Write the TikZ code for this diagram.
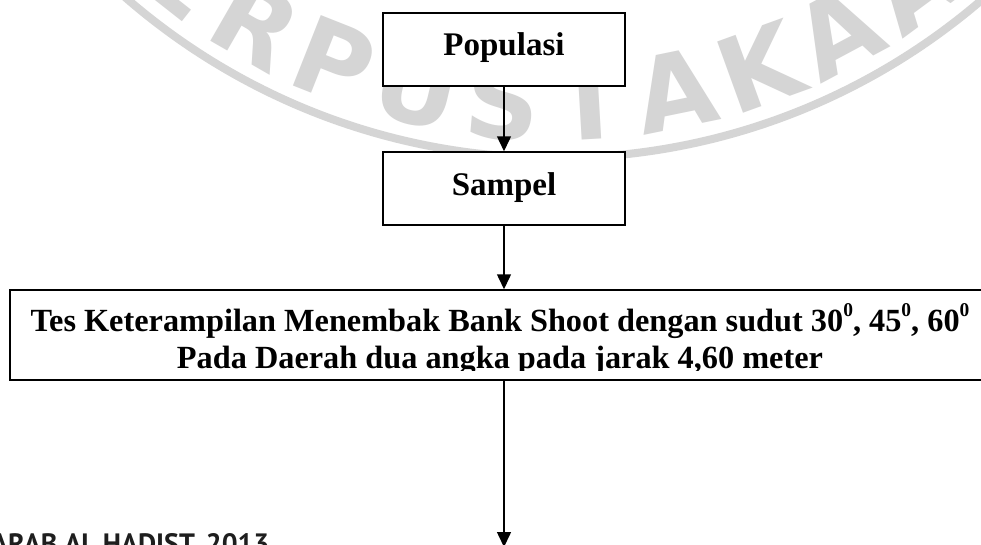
\documentclass[tikz,border=0pt]{standalone}
\usepackage{fontspec}
\setmainfont{Liberation Serif}
\newfontfamily\wmfont{DejaVu Sans}
\newfontfamily\capfont{PT Sans}
\usetikzlibrary{arrows.meta}
\definecolor{wm}{RGB}{213,213,213}
\definecolor{capgray}{RGB}{30,30,30}
\newcommand{\degsup}{\raisebox{15pt}{\fontsize{19.5}{19.5}\selectfont 0}}
\begin{document}
\begin{tikzpicture}[x=1pt,y=-1pt,
  box/.style={draw=black, line width=1.5pt, fill=white, inner sep=0pt, font=\fontsize{33}{38}\selectfont\bfseries},
  arr/.style={line width=1.5pt, -{Triangle[width=14pt,length=15pt]}},
  lbl/.style={inner sep=0pt, font=\fontsize{32.3}{38}\selectfont\bfseries, anchor=base},
  wmletter/.style={text=wm, font=\wmfont\fontsize{104}{104}\selectfont\bfseries, inner sep=0pt}]
\clip (0,0) rectangle (981,544);
\fill[white] (0,0) rectangle (981,544);
% watermark
\draw[wm, line width=8pt] (555,-497) circle[radius=655];
\foreach \ch/\ang [count=\i] in {P/-46.5,E/-38.2,R/-29.9,P/-21.6,U/-13.3,S/-5,T/3.3,A/11.6,K/19.9,A/28.2,A/36.5,N/44.8}
  \node[wmletter, rotate=\ang] (wm\i) at ({555+600*sin(\ang)},{-497+600*cos(\ang)}) {\ch};
% boxes
\node[box, minimum width=242pt, text height=42pt, text depth=31pt] (pop) at (504,49.5) {Populasi};
\node[box, minimum width=242pt, text height=43pt, text depth=30pt] (samp) at (504,188.5) {Sampel};
\node[box, minimum width=1000pt, minimum height=90pt] (tesbox) at (510,335) {};
\begin{scope}
\clip (0,290) rectangle (981,370.5);
\node[lbl] (tes1) at (500,331) {Tes Keterampilan Menembak Bank Shoot dengan sudut 30\degsup, 45\degsup, 60\degsup};
\node[lbl] (tes2) at (500,368) {Pada Daerah dua angka pada jarak 4,60 meter};
\end{scope}
% connectors
\draw[arr] (pop) -- (samp);
\draw[arr] (samp) -- (samp.south |- tesbox.north);
\coordinate (endpt) at (504,547);
\draw[arr] (samp.south |- tesbox.south) -- (endpt);
% footer text
\node[font=\capfont\fontsize{28}{28}\selectfont\bfseries, text=capgray, anchor=base west, inner sep=0pt] (cap) at (-9,553) {ARAB AL HADIST, 2013};
\end{tikzpicture}
\end{document}
